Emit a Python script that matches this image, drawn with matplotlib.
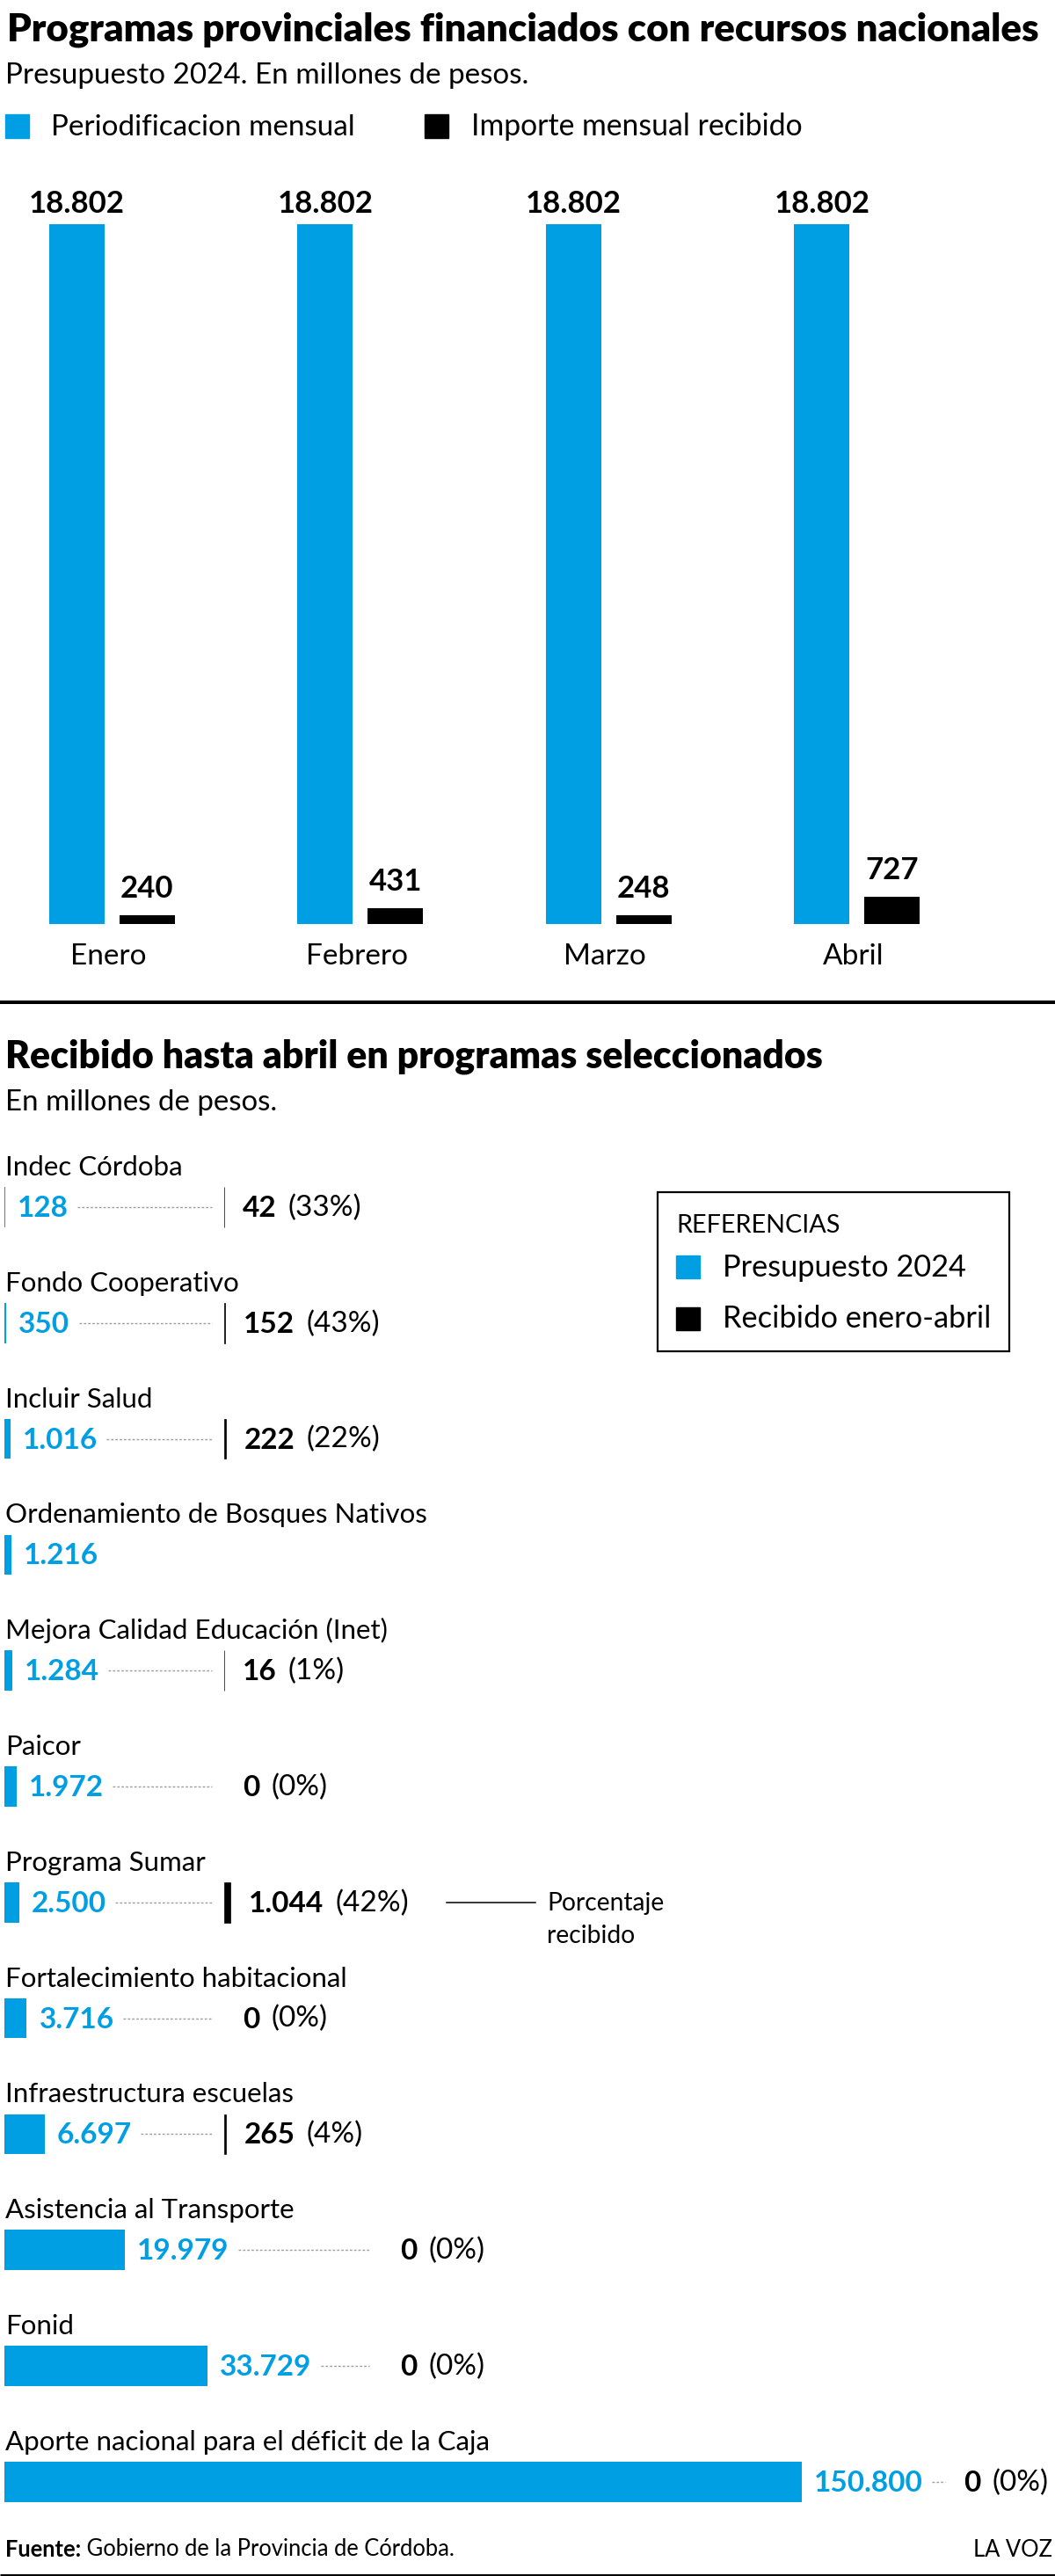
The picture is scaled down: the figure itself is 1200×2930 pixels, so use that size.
import matplotlib
matplotlib.use("Agg")
import matplotlib.pyplot as plt
from matplotlib.patches import Rectangle

W, H = 1200, 2930
BLUE = "#009ee2"
GREY = "#9d9d9d"

# monthly chart
MONTHS = ["Enero", "Febrero", "Marzo", "Abril"]
MONTHLY_BUDGET = [18802, 18802, 18802, 18802]
MONTHLY_RECEIVED = [240, 431, 248, 727]

# selected programs (millones de pesos), None = no data received column
PROGRAMS = [
    "Indec Córdoba",
    "Fondo Cooperativo",
    "Incluir Salud",
    "Ordenamiento de Bosques Nativos",
    "Mejora Calidad Educación (Inet)",
    "Paicor",
    "Programa Sumar",
    "Fortalecimiento habitacional",
    "Infraestructura escuelas",
    "Asistencia al Transporte",
    "Fonid",
    "Aporte nacional para el déficit de la Caja",
]
BUDGET_2024 = [128, 350, 1016, 1216, 1284, 1972, 2500, 3716, 6697, 19979, 33729, 150800]
RECEIVED = [42, 152, 222, None, 16, 0, 1044, 0, 265, 0, 0, 0]

# layout: pixel column where the "received" part of each row starts
RECV_COL_PX = [255] * 9 + [434, 434, 1075]

plt.rcParams['font.family'] = ['Lato', 'DejaVu Sans']

fig = plt.figure(figsize=(W / 100, H / 100), dpi=100)
renderer = fig.canvas.get_renderer()


def pt(px):
    return px * 0.72


def frac(left, top, width, height):
    return [left / W, 1 - (top + height) / H, width / W, height / H]


def fmt(v):
    return f"{v:,}".replace(",", ".")


def fit(t, width):
    # two passes, hinting makes width not exactly linear in size
    for _ in range(2):
        w = t.get_window_extent(renderer).width
        t.set_fontsize(t.get_fontsize() * width / w)
    return t


# overlay in pixel coordinates for titles, legends and rules
ov = fig.add_axes([0, 0, 1, 1])
ov.set_xlim(0, W)
ov.set_ylim(H, 0)
ov.axis('off')

# ---- top section
fit(ov.text(8, 47, "Programas provinciales financiados con recursos nacionales",
            fontsize=30, fontweight='heavy', va='baseline'), 1174)
fit(ov.text(6, 95, "Presupuesto 2024. En millones de pesos.", fontsize=22, va='baseline'), 595)

ov.add_patch(Rectangle((6, 130), 27, 27, color=BLUE))
ov.add_patch(Rectangle((483, 130), 27, 27, color='black'))
fit(ov.text(58, 154, "Periodificacion mensual", fontsize=22, va='baseline'), 347)
fit(ov.text(536, 154, "Importe mensual recibido", fontsize=22, va='baseline'), 378)

step = 282.5
ax1 = fig.add_axes(frac(0, 255, W, 796))
ax1.set_ylim(0, max(MONTHLY_BUDGET))
ax1.set_xlim(-127.25 / step, (W - 127.25) / step)
ax1.axis('off')
xs = range(len(MONTHS))
bw = 63 / step
off = 40 / step
b1 = ax1.bar([i - off for i in xs], MONTHLY_BUDGET, bw, color=BLUE)
b2 = ax1.bar([i + off for i in xs], MONTHLY_RECEIVED, bw, color='black')
for bars, vals, gap in [(b1, MONTHLY_BUDGET, 13), (b2, MONTHLY_RECEIVED, 20)]:
    for rect, v in zip(bars, vals):
        ax1.annotate(fmt(v), (rect.get_x() + rect.get_width() / 2, v),
                     xytext=(0, pt(gap)), textcoords='offset points',
                     ha='center', va='baseline', fontsize=25, fontweight='bold',
                     annotation_clip=False)
for i, m in enumerate(MONTHS):
    ax1.annotate(m, (i, 0), xytext=(-pt(4), -pt(46)), textcoords='offset points',
                 ha='center', va='baseline', fontsize=24, annotation_clip=False)

ov.plot([0, W], [1140, 1140], color='black', lw=pt(4), solid_capstyle='butt')

# ---- second section
fit(ov.text(6, 1215, "Recibido hasta abril en programas seleccionados",
            fontsize=30, fontweight='heavy', va='baseline'), 929)
fit(ov.text(6, 1263, "En millones de pesos.", fontsize=22, va='baseline'), 309)

scale = 0.00686  # px per millón
row = 131.8
n = len(PROGRAMS)
ax2 = fig.add_axes(frac(5, 1373 - row / 2, 907, row * n))
ax2.set_xlim(0, 907 / scale)
ax2.set_ylim(n - 0.5, -0.5)
ax2.axis('off')
xmax = ax2.get_xlim()[1]
bh = 45.5 / row

ax2.barh(range(n), BUDGET_2024, height=bh, color=BLUE)

inv = ax2.transData.inverted()
col_data = [inv.transform((px, 0))[0] for px in RECV_COL_PX]
rows = [i for i, r in enumerate(RECEIVED) if r]
ax2.barh(rows, [RECEIVED[i] for i in rows], left=[col_data[i] for i in rows],
         height=bh, color='black', edgecolor='black', linewidth=0.5)

# program names
for i, name in enumerate(PROGRAMS):
    ax2.annotate(name, (0, i), xytext=(pt(1), pt(36)), textcoords='offset points',
                 va='baseline', fontsize=22.5, annotation_clip=False)

blue_labels = []
for i, v in enumerate(BUDGET_2024):
    t = ax2.annotate(fmt(v), (min(v, xmax), i), xytext=(pt(14), -pt(11)),
                     textcoords='offset points', va='baseline', color=BLUE,
                     fontsize=24, fontweight='bold', annotation_clip=False)
    blue_labels.append(t)

for i, (v, r) in enumerate(zip(BUDGET_2024, RECEIVED)):
    if r is None:
        continue
    num = ax2.annotate(fmt(r), (col_data[i] + r, i), xytext=(pt(21), -pt(11)),
                       textcoords='offset points', va='baseline', color='black',
                       fontsize=24, fontweight='bold', annotation_clip=False)
    ax2.annotate(f"({round(r / v * 100)}%)", (1, 0), xycoords=num,
                 xytext=(pt(13), 0), textcoords='offset points', va='bottom',
                 fontsize=24, annotation_clip=False)

# dotted leaders between budget and received
fig.canvas.draw()
for i, t in enumerate(blue_labels):
    if RECEIVED[i] is None:
        continue
    x0 = t.get_window_extent(renderer).x1 + 10
    x1 = max(RECV_COL_PX[i] - 14, min(x0 + 15, RECV_COL_PX[i] + 8))
    yc = H - ax2.transData.transform((0, i))[1]
    if x1 > x0:
        ov.plot([x0, x1], [yc, yc], color=GREY, lw=1, ls=(0, (2, 1.5)))

# reference box
ov.add_patch(Rectangle((748, 1356), 400, 181, fill=False, edgecolor='black', lw=1.6))
fit(ov.text(769, 1402, "REFERENCIAS", fontsize=20, va='baseline'), 186)
ov.add_patch(Rectangle((769, 1428), 27, 26, color=BLUE))
ov.add_patch(Rectangle((769, 1487), 27, 26, color='black'))
t = fit(ov.text(822, 1510, "Recibido enero-abril", fontsize=22, va='baseline'), 305)
ov.text(822, 1452, "Presupuesto 2024", fontsize=t.get_fontsize(), va='baseline')

# note for Programa Sumar
ysum = H - ax2.transData.transform((0, 6))[1]
ov.plot([508, 609], [ysum, ysum], color='black', lw=1.1)
p = fit(ov.text(622, 2173, "Porcentaje", fontsize=20, va='baseline'), 134)
ov.text(622, 2210, "recibido", fontsize=p.get_fontsize(), va='baseline')

# footer
src = fit(ov.text(6, 2908, "Fuente:", fontsize=18, fontweight='bold', va='baseline'), 87)
ov.annotate(" Gobierno de la Provincia de Córdoba.", (1, 0), xycoords=src,
            va='bottom', fontsize=src.get_fontsize())
ov.text(1197, 2908, "LA VOZ", fontsize=src.get_fontsize(), ha='right', va='baseline')
ov.plot([0, W], [2928.5, 2928.5], color='black', lw=pt(3), solid_capstyle='butt')

fig.savefig("out.png", dpi=100)
